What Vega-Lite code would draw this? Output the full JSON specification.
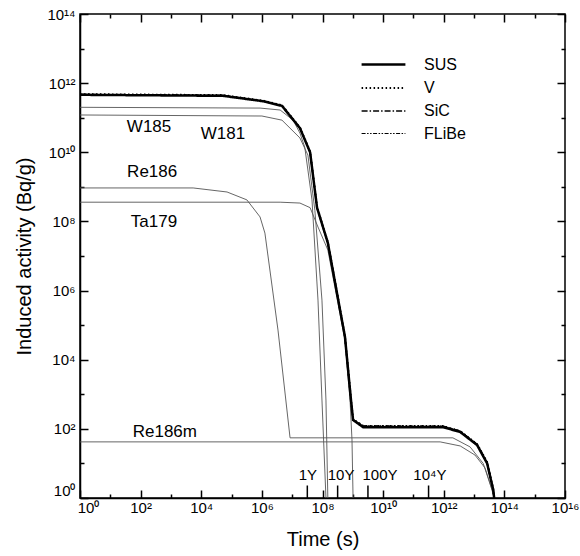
{
  "$schema": "https://vega.github.io/schema/vega-lite/v6.json",
  "width": 485,
  "height": 484,
  "autosize": {"type": "none"},
  "padding": {"left": 80, "top": 14, "right": 15, "bottom": 58},
  "config": {
    "font": "Liberation Sans",
    "view": {"stroke": "black", "strokeWidth": 1.5},
    "axis": {"domainColor": "black", "domainWidth": 1.5, "tickColor": "black", "tickWidth": 1.5, "labelColor": "black", "titleColor": "black", "grid": false, "labelFont": "Liberation Sans", "titleFont": "Liberation Sans", "titleFontWeight": "normal", "labelFlush": false, "labelOverlap": false}
  },
  "datasets": {
    "materials": [
      {"series": "SUS", "t": 1, "v": 4.6e11}, {"series": "SUS", "t": 5.2e4, "v": 4.3e11}, {"series": "SUS", "t": 1.1e6, "v": 3.0e11}, {"series": "SUS", "t": 4.6e6, "v": 2.2e11}, {"series": "SUS", "t": 1.8e7, "v": 5.0e10}, {"series": "SUS", "t": 3.9e7, "v": 1.0e10}, {"series": "SUS", "t": 6.6e7, "v": 2.5e8}, {"series": "SUS", "t": 1.5e8, "v": 2.4e7}, {"series": "SUS", "t": 5.5e8, "v": 4.6e4}, {"series": "SUS", "t": 8.7e8, "v": 680}, {"series": "SUS", "t": 1.02e9, "v": 180}, {"series": "SUS", "t": 2.2e9, "v": 112}, {"series": "SUS", "t": 9.5e11, "v": 112}, {"series": "SUS", "t": 3.5e12, "v": 81}, {"series": "SUS", "t": 1.26e13, "v": 34}, {"series": "SUS", "t": 2.7e13, "v": 10}, {"series": "SUS", "t": 4.3e13, "v": 1.7}, {"series": "SUS", "t": 4.6e13, "v": 1},
      {"series": "V", "t": 1, "v": 4.8e11}, {"series": "V", "t": 5.2e4, "v": 4.5e11}, {"series": "V", "t": 1.1e6, "v": 3.1e11}, {"series": "V", "t": 4.6e6, "v": 2.3e11}, {"series": "V", "t": 1.8e7, "v": 5.2e10}, {"series": "V", "t": 3.9e7, "v": 1.05e10}, {"series": "V", "t": 6.6e7, "v": 2.6e8}, {"series": "V", "t": 1.5e8, "v": 2.5e7}, {"series": "V", "t": 5.5e8, "v": 4.8e4}, {"series": "V", "t": 8.7e8, "v": 700}, {"series": "V", "t": 1.02e9, "v": 190}, {"series": "V", "t": 2.2e9, "v": 122}, {"series": "V", "t": 9.5e11, "v": 120}, {"series": "V", "t": 3.5e12, "v": 86}, {"series": "V", "t": 1.26e13, "v": 36}, {"series": "V", "t": 2.7e13, "v": 11}, {"series": "V", "t": 4.3e13, "v": 1.8}, {"series": "V", "t": 4.6e13, "v": 1},
      {"series": "SiC", "t": 1, "v": 4.7e11}, {"series": "SiC", "t": 5.2e4, "v": 4.4e11}, {"series": "SiC", "t": 1.1e6, "v": 3.0e11}, {"series": "SiC", "t": 4.6e6, "v": 2.2e11}, {"series": "SiC", "t": 1.8e7, "v": 5.1e10}, {"series": "SiC", "t": 3.9e7, "v": 1.0e10}, {"series": "SiC", "t": 6.6e7, "v": 2.5e8}, {"series": "SiC", "t": 1.5e8, "v": 2.4e7}, {"series": "SiC", "t": 5.5e8, "v": 4.7e4}, {"series": "SiC", "t": 8.7e8, "v": 690}, {"series": "SiC", "t": 1.02e9, "v": 185}, {"series": "SiC", "t": 2.2e9, "v": 118}, {"series": "SiC", "t": 9.5e11, "v": 117}, {"series": "SiC", "t": 3.5e12, "v": 84}, {"series": "SiC", "t": 1.26e13, "v": 35}, {"series": "SiC", "t": 2.7e13, "v": 10.5}, {"series": "SiC", "t": 4.3e13, "v": 1.75}, {"series": "SiC", "t": 4.6e13, "v": 1},
      {"series": "FLiBe", "t": 1, "v": 4.75e11}, {"series": "FLiBe", "t": 5.2e4, "v": 4.45e11}, {"series": "FLiBe", "t": 1.1e6, "v": 3.05e11}, {"series": "FLiBe", "t": 4.6e6, "v": 2.25e11}, {"series": "FLiBe", "t": 1.8e7, "v": 5.1e10}, {"series": "FLiBe", "t": 3.9e7, "v": 1.02e10}, {"series": "FLiBe", "t": 6.6e7, "v": 2.55e8}, {"series": "FLiBe", "t": 1.5e8, "v": 2.45e7}, {"series": "FLiBe", "t": 5.5e8, "v": 4.7e4}, {"series": "FLiBe", "t": 8.7e8, "v": 695}, {"series": "FLiBe", "t": 1.02e9, "v": 188}, {"series": "FLiBe", "t": 2.2e9, "v": 124}, {"series": "FLiBe", "t": 9.5e11, "v": 122}, {"series": "FLiBe", "t": 3.5e12, "v": 88}, {"series": "FLiBe", "t": 1.26e13, "v": 37}, {"series": "FLiBe", "t": 2.7e13, "v": 11}, {"series": "FLiBe", "t": 4.3e13, "v": 1.8}, {"series": "FLiBe", "t": 4.6e13, "v": 1}
    ],
    "nuclides": [
      {"nuclide": "W185", "t": 1, "v": 2.0e11}, {"nuclide": "W185", "t": 8.7e5, "v": 1.9e11}, {"nuclide": "W185", "t": 4.0e6, "v": 1.67e11}, {"nuclide": "W185", "t": 1.07e7, "v": 8.5e10}, {"nuclide": "W185", "t": 1.8e7, "v": 3.6e10}, {"nuclide": "W185", "t": 2.6e7, "v": 1.4e10}, {"nuclide": "W185", "t": 4.5e7, "v": 4.2e8}, {"nuclide": "W185", "t": 7.1e7, "v": 5.3e5}, {"nuclide": "W185", "t": 9.6e7, "v": 680}, {"nuclide": "W185", "t": 1.3e8, "v": 1},
      {"nuclide": "W181", "t": 1, "v": 1.2e11}, {"nuclide": "W181", "t": 1.0e6, "v": 1.12e11}, {"nuclide": "W181", "t": 4.6e6, "v": 8.5e10}, {"nuclide": "W181", "t": 1.8e7, "v": 2.6e10}, {"nuclide": "W181", "t": 3.3e7, "v": 8.3e9}, {"nuclide": "W181", "t": 5.6e7, "v": 2.1e8}, {"nuclide": "W181", "t": 9.6e7, "v": 5.3e5}, {"nuclide": "W181", "t": 1.3e8, "v": 680}, {"nuclide": "W181", "t": 1.5e8, "v": 1},
      {"nuclide": "Re186", "t": 1, "v": 9.3e8}, {"nuclide": "Re186", "t": 5.4e3, "v": 9.3e8}, {"nuclide": "Re186", "t": 7.1e4, "v": 7.1e8}, {"nuclide": "Re186", "t": 3.2e5, "v": 4.2e8}, {"nuclide": "Re186", "t": 8.7e5, "v": 1.35e8}, {"nuclide": "Re186", "t": 1.26e6, "v": 4.6e7}, {"nuclide": "Re186", "t": 3.4e6, "v": 7.2e4}, {"nuclide": "Re186", "t": 8.5e6, "v": 55}, {"nuclide": "Re186", "t": 2.0e12, "v": 55}, {"nuclide": "Re186", "t": 7.4e12, "v": 30}, {"nuclide": "Re186", "t": 2.0e13, "v": 10}, {"nuclide": "Re186", "t": 4.0e13, "v": 1.7}, {"nuclide": "Re186", "t": 4.6e13, "v": 1},
      {"nuclide": "Ta179", "t": 1, "v": 3.6e8}, {"nuclide": "Ta179", "t": 4.0e6, "v": 3.6e8}, {"nuclide": "Ta179", "t": 1.8e7, "v": 3.4e8}, {"nuclide": "Ta179", "t": 3.9e7, "v": 2.5e8}, {"nuclide": "Ta179", "t": 7.1e7, "v": 6.9e7}, {"nuclide": "Ta179", "t": 1.5e8, "v": 1.5e7}, {"nuclide": "Ta179", "t": 5.5e8, "v": 3.7e4}, {"nuclide": "Ta179", "t": 8.1e8, "v": 680}, {"nuclide": "Ta179", "t": 9.4e8, "v": 48}, {"nuclide": "Ta179", "t": 1.02e9, "v": 1},
      {"nuclide": "Re186m", "t": 1, "v": 42}, {"nuclide": "Re186m", "t": 7.6e11, "v": 42}, {"nuclide": "Re186m", "t": 3.5e12, "v": 32}, {"nuclide": "Re186m", "t": 1.07e13, "v": 17.5}, {"nuclide": "Re186m", "t": 2.3e13, "v": 7.4}, {"nuclide": "Re186m", "t": 3.9e13, "v": 1.7}, {"nuclide": "Re186m", "t": 4.6e13, "v": 1}
    ],
    "nuclideLabels": [
      {"text": "W185", "t": 190, "v": 5.4e10},
      {"text": "W181", "t": 5.2e4, "v": 3.4e10},
      {"text": "Re186", "t": 240, "v": 2.7e9},
      {"text": "Ta179", "t": 275, "v": 9.5e7},
      {"text": "Re186m", "t": 630, "v": 81}
    ],
    "years": [
      {"text": "1Y", "t": 3.156e7, "lt": 3.3e7},
      {"text": "10Y", "t": 3.156e8, "lt": 4.1e8},
      {"text": "100Y", "t": 3.156e9, "lt": 7.9e9},
      {"text": "10⁴Y", "t": 3.156e11, "lt": 3.5e11}
    ],
    "frame": [{"t": 1, "v": 1}]
  },
  "layer": [
    {
      "data": {"name": "frame"},
      "mark": {"type": "point", "opacity": 0},
      "encoding": {
        "x": {"field": "t", "type": "quantitative", "scale": {"type": "log", "domain": [1, 1e16]},
          "axis": {"orient": "bottom", "values": [1, 100, 1e4, 1e6, 1e8, 1e10, 1e12, 1e14, 1e16],
            "ticks": false, "labelPadding": 2, "labelFontSize": 15,
            "labelOffset": {"condition": {"test": "datum.value === 1", "value": 8}, "value": 0},
            "labelExpr": "'10' + ['⁰','','²','','⁴','','⁶','','⁸','','¹⁰','','¹²','','¹⁴','','¹⁶'][round(log(datum.value)/LN10)]",
            "title": "Time (s)", "titleFontSize": 20, "titlePadding": 14}},
        "y": {"field": "v", "type": "quantitative", "scale": {"type": "log", "domain": [1, 1e14]},
          "axis": {"orient": "left", "values": [1, 100, 1e4, 1e6, 1e8, 1e10, 1e12, 1e14],
            "ticks": false, "labelPadding": 5, "labelFontSize": 15,
            "labelOffset": {"condition": {"test": "datum.value === 1", "value": -8}, "value": 0},
            "labelExpr": "'10' + ['⁰','','²','','⁴','','⁶','','⁸','','¹⁰','','¹²','','¹⁴','','¹⁶'][round(log(datum.value)/LN10)]",
            "title": "Induced activity (Bq/g)", "titleFontSize": 20, "titlePadding": 12}}
      }
    },
    {
      "data": {"name": "frame"},
      "mark": {"type": "point", "opacity": 0},
      "encoding": {
        "x": {"field": "t", "type": "quantitative", "scale": {"type": "log", "domain": [1, 1e16]},
          "axis": {"orient": "bottom", "offset": -8, "values": [1, 100, 1e4, 1e6, 1e8, 1e10, 1e12, 1e14, 1e16], "tickSize": 8, "labels": false, "domain": false, "title": null}},
        "y": {"field": "v", "type": "quantitative", "scale": {"type": "log", "domain": [1, 1e14]},
          "axis": {"orient": "left", "offset": -8, "values": [1, 100, 1e4, 1e6, 1e8, 1e10, 1e12, 1e14], "tickSize": 8, "labels": false, "domain": false, "title": null}}
      }
    },
    {
      "data": {"name": "frame"},
      "mark": {"type": "point", "opacity": 0},
      "encoding": {
        "x": {"field": "t", "type": "quantitative", "scale": {"type": "log", "domain": [1, 1e16]},
          "axis": {"orient": "bottom", "offset": -4, "values": [10, 1e3, 1e5, 1e7, 1e9, 1e11, 1e13, 1e15], "tickSize": 4, "labels": false, "domain": false, "title": null}},
        "y": {"field": "v", "type": "quantitative", "scale": {"type": "log", "domain": [1, 1e14]},
          "axis": {"orient": "left", "offset": -4, "values": [10, 1e3, 1e5, 1e7, 1e9, 1e11, 1e13], "tickSize": 4, "labels": false, "domain": false, "title": null}}
      }
    },
    {
      "data": {"name": "frame"},
      "mark": {"type": "point", "opacity": 0},
      "encoding": {
        "x": {"field": "t", "type": "quantitative", "scale": {"type": "log", "domain": [1, 1e16]},
          "axis": {"orient": "top", "offset": -8, "values": [1, 100, 1e4, 1e6, 1e8, 1e10, 1e12, 1e14, 1e16], "tickSize": 8, "labels": false, "domain": false, "title": null}},
        "y": {"field": "v", "type": "quantitative", "scale": {"type": "log", "domain": [1, 1e14]},
          "axis": {"orient": "right", "offset": -8, "values": [1, 100, 1e4, 1e6, 1e8, 1e10, 1e12, 1e14], "tickSize": 8, "labels": false, "domain": false, "title": null}}
      }
    },
    {
      "data": {"name": "frame"},
      "mark": {"type": "point", "opacity": 0},
      "encoding": {
        "x": {"field": "t", "type": "quantitative", "scale": {"type": "log", "domain": [1, 1e16]},
          "axis": {"orient": "top", "offset": -4, "values": [10, 1e3, 1e5, 1e7, 1e9, 1e11, 1e13, 1e15], "tickSize": 4, "labels": false, "domain": false, "title": null}},
        "y": {"field": "v", "type": "quantitative", "scale": {"type": "log", "domain": [1, 1e14]},
          "axis": {"orient": "right", "offset": -4, "values": [10, 1e3, 1e5, 1e7, 1e9, 1e11, 1e13], "tickSize": 4, "labels": false, "domain": false, "title": null}}
      }
    },
    {
      "data": {"name": "nuclides"},
      "mark": {"type": "line", "color": "#555555", "strokeWidth": 0.9, "clip": true},
      "encoding": {
        "x": {"field": "t", "type": "quantitative", "scale": {"type": "log", "domain": [1, 1e16]}, "axis": null},
        "y": {"field": "v", "type": "quantitative", "scale": {"type": "log", "domain": [1, 1e14]}, "axis": null},
        "detail": {"field": "nuclide", "type": "nominal"}
      }
    },
    {
      "data": {"name": "materials"},
      "mark": {"type": "line", "color": "black", "clip": true},
      "encoding": {
        "x": {"field": "t", "type": "quantitative", "scale": {"type": "log", "domain": [1, 1e16]}, "axis": null},
        "y": {"field": "v", "type": "quantitative", "scale": {"type": "log", "domain": [1, 1e14]}, "axis": null},
        "strokeDash": {"field": "series", "type": "nominal",
          "scale": {"domain": ["SUS", "V", "SiC", "FLiBe"], "range": [[1, 0], [1.5, 2.5], [6, 2, 1.5, 2], [4, 1.5, 1.5, 1.5, 1.5, 1.5]]},
          "legend": {"orient": "none", "legendX": 291, "legendY": 38, "title": null, "symbolType": "M-2,0L2,0", "symbolSize": 480, "symbolStrokeColor": "black", "symbolFillColor": "transparent", "labelFontSize": 16, "labelFont": "Liberation Sans", "labelColor": "black", "labelOffset": 28, "rowPadding": 3}},
        "strokeWidth": {"field": "series", "type": "nominal",
          "scale": {"domain": ["SUS", "V", "SiC", "FLiBe"], "range": [2.5, 1, 1, 1]},
          "legend": {"orient": "none", "legendX": 291, "legendY": 38, "title": null, "symbolType": "M-2,0L2,0", "symbolSize": 480, "symbolStrokeColor": "black", "symbolFillColor": "transparent", "labelFontSize": 16, "labelFont": "Liberation Sans", "labelColor": "black", "labelOffset": 28, "rowPadding": 3}}
      }
    },
    {
      "data": {"name": "nuclideLabels"},
      "mark": {"type": "text", "fontSize": 17, "font": "Liberation Sans", "color": "black", "align": "center", "baseline": "middle"},
      "encoding": {
        "x": {"field": "t", "type": "quantitative", "scale": {"type": "log", "domain": [1, 1e16]}, "axis": null},
        "y": {"field": "v", "type": "quantitative", "scale": {"type": "log", "domain": [1, 1e14]}, "axis": null},
        "text": {"field": "text"}
      }
    },
    {
      "data": {"name": "years"},
      "mark": {"type": "rule", "color": "black", "strokeWidth": 1.5},
      "encoding": {
        "x": {"field": "t", "type": "quantitative", "scale": {"type": "log", "domain": [1, 1e16]}, "axis": null},
        "y": {"datum": 1, "type": "quantitative", "scale": {"type": "log", "domain": [1, 1e14]}, "axis": null},
        "y2": {"datum": 2.3}
      }
    },
    {
      "data": {"name": "years"},
      "mark": {"type": "text", "fontSize": 15, "font": "Liberation Sans", "color": "black", "align": "center", "baseline": "middle"},
      "encoding": {
        "x": {"field": "lt", "type": "quantitative", "scale": {"type": "log", "domain": [1, 1e16]}, "axis": null},
        "y": {"datum": 4.6, "type": "quantitative", "scale": {"type": "log", "domain": [1, 1e14]}, "axis": null},
        "text": {"field": "text"}
      }
    }
  ],
  "resolve": {"axis": {"x": "independent", "y": "independent"}}
}
